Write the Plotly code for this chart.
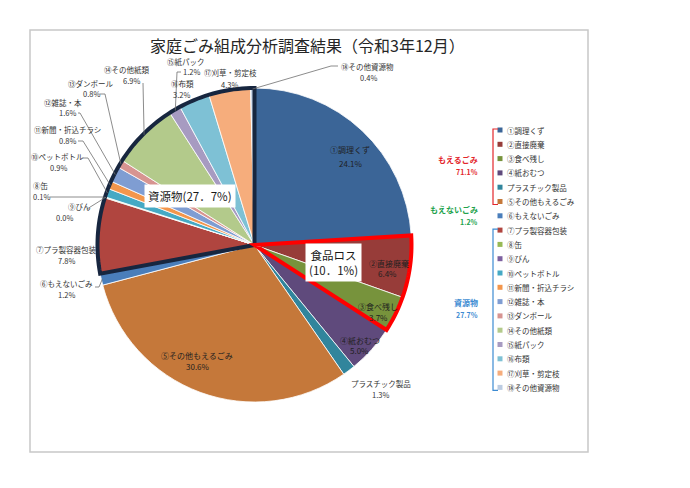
import math
import plotly.graph_objects as go

# ---------------- data ----------------
categories = ["①調理くず", "②直接廃棄", "③食べ残し", "④紙おむつ", "プラスチック製品",
              "⑤その他もえるごみ", "⑥もえないごみ", "⑦プラ製容器包装", "⑧缶", "⑨びん",
              "⑩ペットボトル", "⑪新聞・折込チラシ", "⑫雑誌・本", "⑬ダンボール",
              "⑭その他紙類", "⑮紙パック", "⑯布類", "⑰刈草・剪定枝", "⑱その他資源物"]
values = [24.1, 6.4, 3.7, 5.0, 1.3, 30.6, 1.2, 7.8, 0.1, 0.0, 0.9, 0.8, 1.6, 0.8,
          6.9, 1.2, 3.2, 4.3, 0.4]
group_names = ["もえるごみ", "もえないごみ", "資源物"]
group_totals = ["71.1%", "1.2%", "27.7%"]
group_ranges = [(0, 6), (6, 7), (7, 19)]
food_loss_text = "食品ロス<br>(10．1%)"
food_loss_range = (1, 3)
resource_text = "資源物(27．7%)"
title_text = "家庭ごみ組成分析調査結果（令和3年12月）"

# ---------------- style ----------------
colors = ["#3B6597", "#973C39", "#77933C", "#5F4A7C", "#31859C", "#C5783A",
          "#4A7EBB", "#B0453F", "#97B955", "#7D60A0", "#45A9C4", "#F3964C",
          "#7F9DD2", "#D79491", "#B3CA8B", "#A79BC1", "#7EC1D5", "#F6AD7C", "#BCCCE2"]
group_colors = ["#E3262B", "#22A24C", "#3C8BD2"]
W, H = 690, 488
CX, CY, R = 254.5, 245.0, 157.0
FONT = "Noto Sans CJK JP"
TXT = "#333333"

# label positions (name line, pct line) in pixel coords
name_pos = [(350, 149), (389, 263), (378, 306), (360, 340), (381, 383), (197, 355),
            (66, 283), (66, 249), (41, 185), (79, 206), (57, 156), (67, 129),
            (63, 102), (91, 83), (127, 69), (186, 61), (182, 83), (230, 72), (367, 66)]
pct_pos = [(351, 163), (387, 273), (378, 317), (359, 350), (380, 394), (198, 366),
           (66, 294), (66, 260), (41, 196), (64, 217), (58, 167), (67, 140),
           (67, 112), (91, 93), (131, 80), (191, 71), (181, 94), (229, 84), (368, 77)]
inside = {0, 1, 2, 3, 5}
leader_elbows = {6: [(95, 287), (99, 287)], 8: [(50, 197), (103, 197)],
                 9: [(87, 209)], 10: [(83, 158), (88, 158)], 11: [(78, 141), (83, 141)],
                 12: [(78, 113), (80, 113)], 13: [(100, 94), (105, 94)],
                 14: [(143, 83)], 15: [(181, 72), (177, 72)], 18: [(338, 66), (331, 66)]}

total = sum(values)
cum = [0.0]
for v in values:
    cum.append(cum[-1] + v)


def pt(frac, r=R):
    a = frac * 2 * math.pi
    return CX + r * math.sin(a), CY - r * math.cos(a)


def sector_path(i0, i1):
    f0, f1 = cum[i0] / total, cum[i1] / total
    n = max(4, int((f1 - f0) * 240))
    d = f"M {CX} {CY}"
    for k in range(n + 1):
        x, y = pt(f0 + (f1 - f0) * k / n)
        d += f" L {x:.2f} {y:.2f}"
    return d + " Z"


fig = go.Figure()
fig.add_trace(go.Pie(
    labels=categories, values=values, sort=False, direction="clockwise", rotation=0,
    marker=dict(colors=colors, line=dict(color="white", width=0.8)),
    textinfo="none", hoverinfo="label+percent", showlegend=False,
    domain=dict(x=[(CX - R) / W, (CX + R) / W], y=[(H - CY - R) / H, (H - CY + R) / H]),
))

# legend markers (custom)
LX, LY0, LDY = 500, 130, 14.3
leg_y = [LY0 + LDY * i for i in range(len(categories))]
fig.add_trace(go.Scatter(
    x=[LX] * len(categories), y=leg_y, mode="markers",
    marker=dict(symbol="square", size=5, color=colors, line=dict(width=0)),
    hoverinfo="skip", showlegend=False))

shapes = []
annotations = []

# border
shapes.append(dict(type="rect", xref="x", yref="y", x0=30, y0=30, x1=588, y1=452,
                   line=dict(color="#C8C8C8", width=1.5), layer="below"))

# sector outlines
shapes.append(dict(type="path", xref="x", yref="y", path=sector_path(*group_ranges[2]),
                   line=dict(color="#17263F", width=4), layer="above"))
shapes.append(dict(type="path", xref="x", yref="y", path=sector_path(*food_loss_range),
                   line=dict(color="#FF0000", width=4), layer="above"))

# leader lines
for i, elbows in leader_elbows.items():
    mid = (cum[i] + values[i] / 2) / total
    pts = elbows + [pt(mid, R - 1)]
    d = f"M {pts[0][0]} {pts[0][1]}" + "".join(f" L {x:.2f} {y:.2f}" for x, y in pts[1:])
    shapes.append(dict(type="path", xref="x", yref="y", path=d,
                       line=dict(color="#6E6E6E", width=0.8), layer="above"))

# slice labels
for i, c in enumerate(categories):
    fs = 8 if i in inside else 7.5
    col = "#1F1F1F" if i in inside else TXT
    annotations.append(dict(x=name_pos[i][0], y=name_pos[i][1], xref="x", yref="y",
                            text=c, showarrow=False, font=dict(family=FONT, size=fs, color=col)))
    annotations.append(dict(x=pct_pos[i][0], y=pct_pos[i][1], xref="x", yref="y",
                            text=f"{values[i]:.1f}%", showarrow=False,
                            font=dict(family=FONT, size=fs, color=col)))

# boxed labels
annotations.append(dict(x=190, y=196, xref="x", yref="y", text=resource_text, showarrow=False,
                        bgcolor="white", borderpad=3,
                        font=dict(family=FONT, size=11.5, color="#1A1A1A")))
annotations.append(dict(x=333, y=262, xref="x", yref="y", text=food_loss_text, showarrow=False,
                        bgcolor="white", borderpad=3,
                        font=dict(family=FONT, size=11.5, color="#1A1A1A")))

# title
annotations.append(dict(x=307, y=45, xref="x", yref="y", text=title_text, showarrow=False,
                        font=dict(family=FONT, size=16, color="#262626")))

# legend texts
for i, c in enumerate(categories):
    annotations.append(dict(x=LX + 5, y=leg_y[i], xref="x", yref="y", text=c, showarrow=False,
                            xanchor="left", font=dict(family=FONT, size=7.5, color=TXT)))

# group brackets and labels
BX = 493
for g, (a, b) in enumerate(group_ranges):
    y0, y1 = leg_y[a] - 1, leg_y[b - 1] + 3
    ymid = (leg_y[a] + leg_y[b - 1]) / 2
    if b - a > 1:
        d = f"M {BX + 5} {y0} L {BX} {y0} L {BX} {y1} L {BX + 5} {y1}"
        shapes.append(dict(type="path", xref="x", yref="y", path=d,
                           line=dict(color=group_colors[g], width=1.2)))
    annotations.append(dict(x=480, y=ymid - 6, xref="x", yref="y", xanchor="right",
                            text=f"<b>{group_names[g]}</b>", showarrow=False,
                            font=dict(family=FONT, size=8, color=group_colors[g])))
    annotations.append(dict(x=480, y=ymid + 6, xref="x", yref="y", xanchor="right",
                            text=f"<b>{group_totals[g]}</b>", showarrow=False,
                            font=dict(family=FONT, size=7, color=group_colors[g])))

fig.update_layout(
    width=W, height=H, margin=dict(l=0, r=0, t=0, b=0),
    paper_bgcolor="white", plot_bgcolor="rgba(0,0,0,0)", showlegend=False,
    xaxis=dict(range=[0, W], visible=False, domain=[0, 1], fixedrange=True),
    yaxis=dict(range=[H, 0], visible=False, domain=[0, 1], fixedrange=True),
    shapes=shapes, annotations=annotations,
)
fig.write_html("out.html")
